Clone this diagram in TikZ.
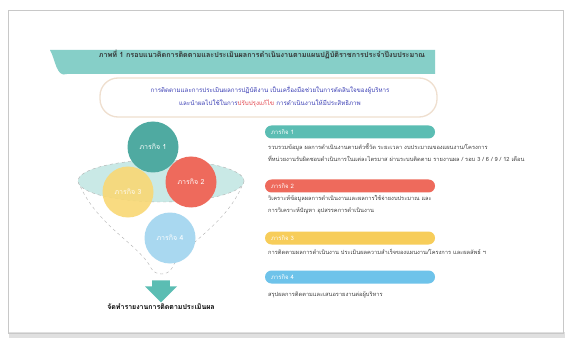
\documentclass[tikz,border=0pt]{standalone}
\usepackage{fontspec}
\newfontfamily\thai[Script=Thai]{Loma}
\usetikzlibrary{shapes.arrows}
\definecolor{banner}{HTML}{86CFC8}
\definecolor{tealm}{HTML}{5BBDB3}
\definecolor{tealc}{HTML}{4FAAA1}
\definecolor{redm}{HTML}{EE6A5C}
\definecolor{yelm}{HTML}{F7CD5A}
\definecolor{yelc}{HTML}{F9D874}
\definecolor{bluem}{HTML}{6EC3EA}
\definecolor{bluec}{HTML}{A9D8F0}
\definecolor{txtblue}{HTML}{3B3FB5}
\definecolor{txtred}{HTML}{E2424A}
\definecolor{frame}{HTML}{C8C8C8}
\tikzset{
  pill/.style={rounded corners=6.5pt, minimum width=170pt, minimum height=13pt,
    text width=158pt, align=left, text=white, font=\thai\fontsize{6}{7}\selectfont, inner sep=0pt},
  desc/.style={anchor=north west, align=left, text=black!75,
    font=\thai\fontsize{5.7}{12}\selectfont, inner sep=0pt},
  mission/.style={circle, minimum size=51pt, text=white, font=\thai\fontsize{7}{8}\selectfont}
}
\begin{document}
\begin{tikzpicture}[x=1pt,y=-1pt]
\useasboundingbox (0,0) rectangle (569,347);
\fill[white] (0,0) rectangle (569,347);
\fill[black!12] (9,332) rectangle (565,338);
\draw[frame, line width=0.8pt] (8,10) rectangle (563,333);
\fill[banner] (50,50) -- (435,50) -- (435,74) -- (67,74) to[out=200,in=-60] (50,50) -- cycle;
\node[font=\thai\bfseries\fontsize{7.2}{8}\selectfont, text=black!80] (title) at (262,55)
  {ภาพที่ 1 กรอบแนวคิดการติดตามและประเมินผลการดำเนินงานตามแผนปฏิบัติราชการประจำปีงบประมาณ};
\draw[rounded corners=18pt, draw=brown!25, line width=1.3pt] (100,78) rectangle (437,117);
\node[align=center, text=txtblue, font=\thai\fontsize{6.2}{13}\selectfont] (intro) at (270,97)
  {การติดตามและการประเมินผลการปฏิบัติงาน เป็นเครื่องมือช่วยในการตัดสินใจของผู้บริหาร\\
   และนำผลไปใช้ในการ{\color{txtred}ปรับปรุงแก้ไข} การดำเนินงานให้มีประสิทธิภาพ};
\draw[gray!60, dashed] (78,181) .. controls (95,225) and (140,245) .. (151,268)
  .. controls (155,276) and (168,276) .. (172,268) .. controls (182,245) and (228,225) .. (244,181);
\draw[gray!60, dashed, fill=banner!45] (161,181) ellipse (83 and 21);
\node[mission, fill=yelc, opacity=0.9] (c3) at (128,192) {ภารกิจ 3};
\node[mission, fill=tealc] (c1) at (153,147) {ภารกิจ 1};
\node[mission, fill=redm] (c2) at (191,182) {ภารกิจ 2};
\node[mission, fill=bluec] (c4) at (170,238) {ภารกิจ 4};
\node[single arrow, shape border rotate=270, fill=tealm, minimum width=32pt, minimum height=22pt,
  single arrow head extend=5pt, inner sep=6pt] (down) at (161,287) {};
\node[font=\thai\bfseries\fontsize{7}{8}\selectfont] (report) at (161,307) {จัดทำรายงานการติดตามประเมินผล};
\node[pill, fill=tealm] (m1) at (350,132) {ภารกิจ 1};
\node[desc] (d1) at (268,143)
  {รวบรวมข้อมูล ผลการดำเนินงานตามตัวชี้วัด ระยะเวลา งบประมาณของแผนงาน/โครงการ\\
   ที่หน่วยงานรับผิดชอบดำเนินการในแต่ละไตรมาส ผ่านระบบติดตาม รายงานผล / รอบ 3 / 6 / 9 / 12 เดือน};
\node[pill, fill=redm] (m2) at (350,186) {ภารกิจ 2};
\node[desc] (d2) at (268,195)
  {วิเคราะห์ข้อมูลผลการดำเนินงานและผลการใช้จ่ายงบประมาณ และ\\
   การวิเคราะห์ปัญหา อุปสรรคการดำเนินงาน};
\node[pill, fill=yelm] (m3) at (350,238) {ภารกิจ 3};
\node[desc] (d3) at (268,249)
  {การติดตามผลการดำเนินงาน ประเมินผลความสำเร็จของแผนงาน/โครงการ และผลลัพธ์ ฯ};
\node[pill, fill=bluem] (m4) at (350,277) {ภารกิจ 4};
\node[desc] (d4) at (268,292)
  {สรุปผลการติดตามและเสนอรายงานต่อผู้บริหาร};
\end{tikzpicture}
\end{document}
